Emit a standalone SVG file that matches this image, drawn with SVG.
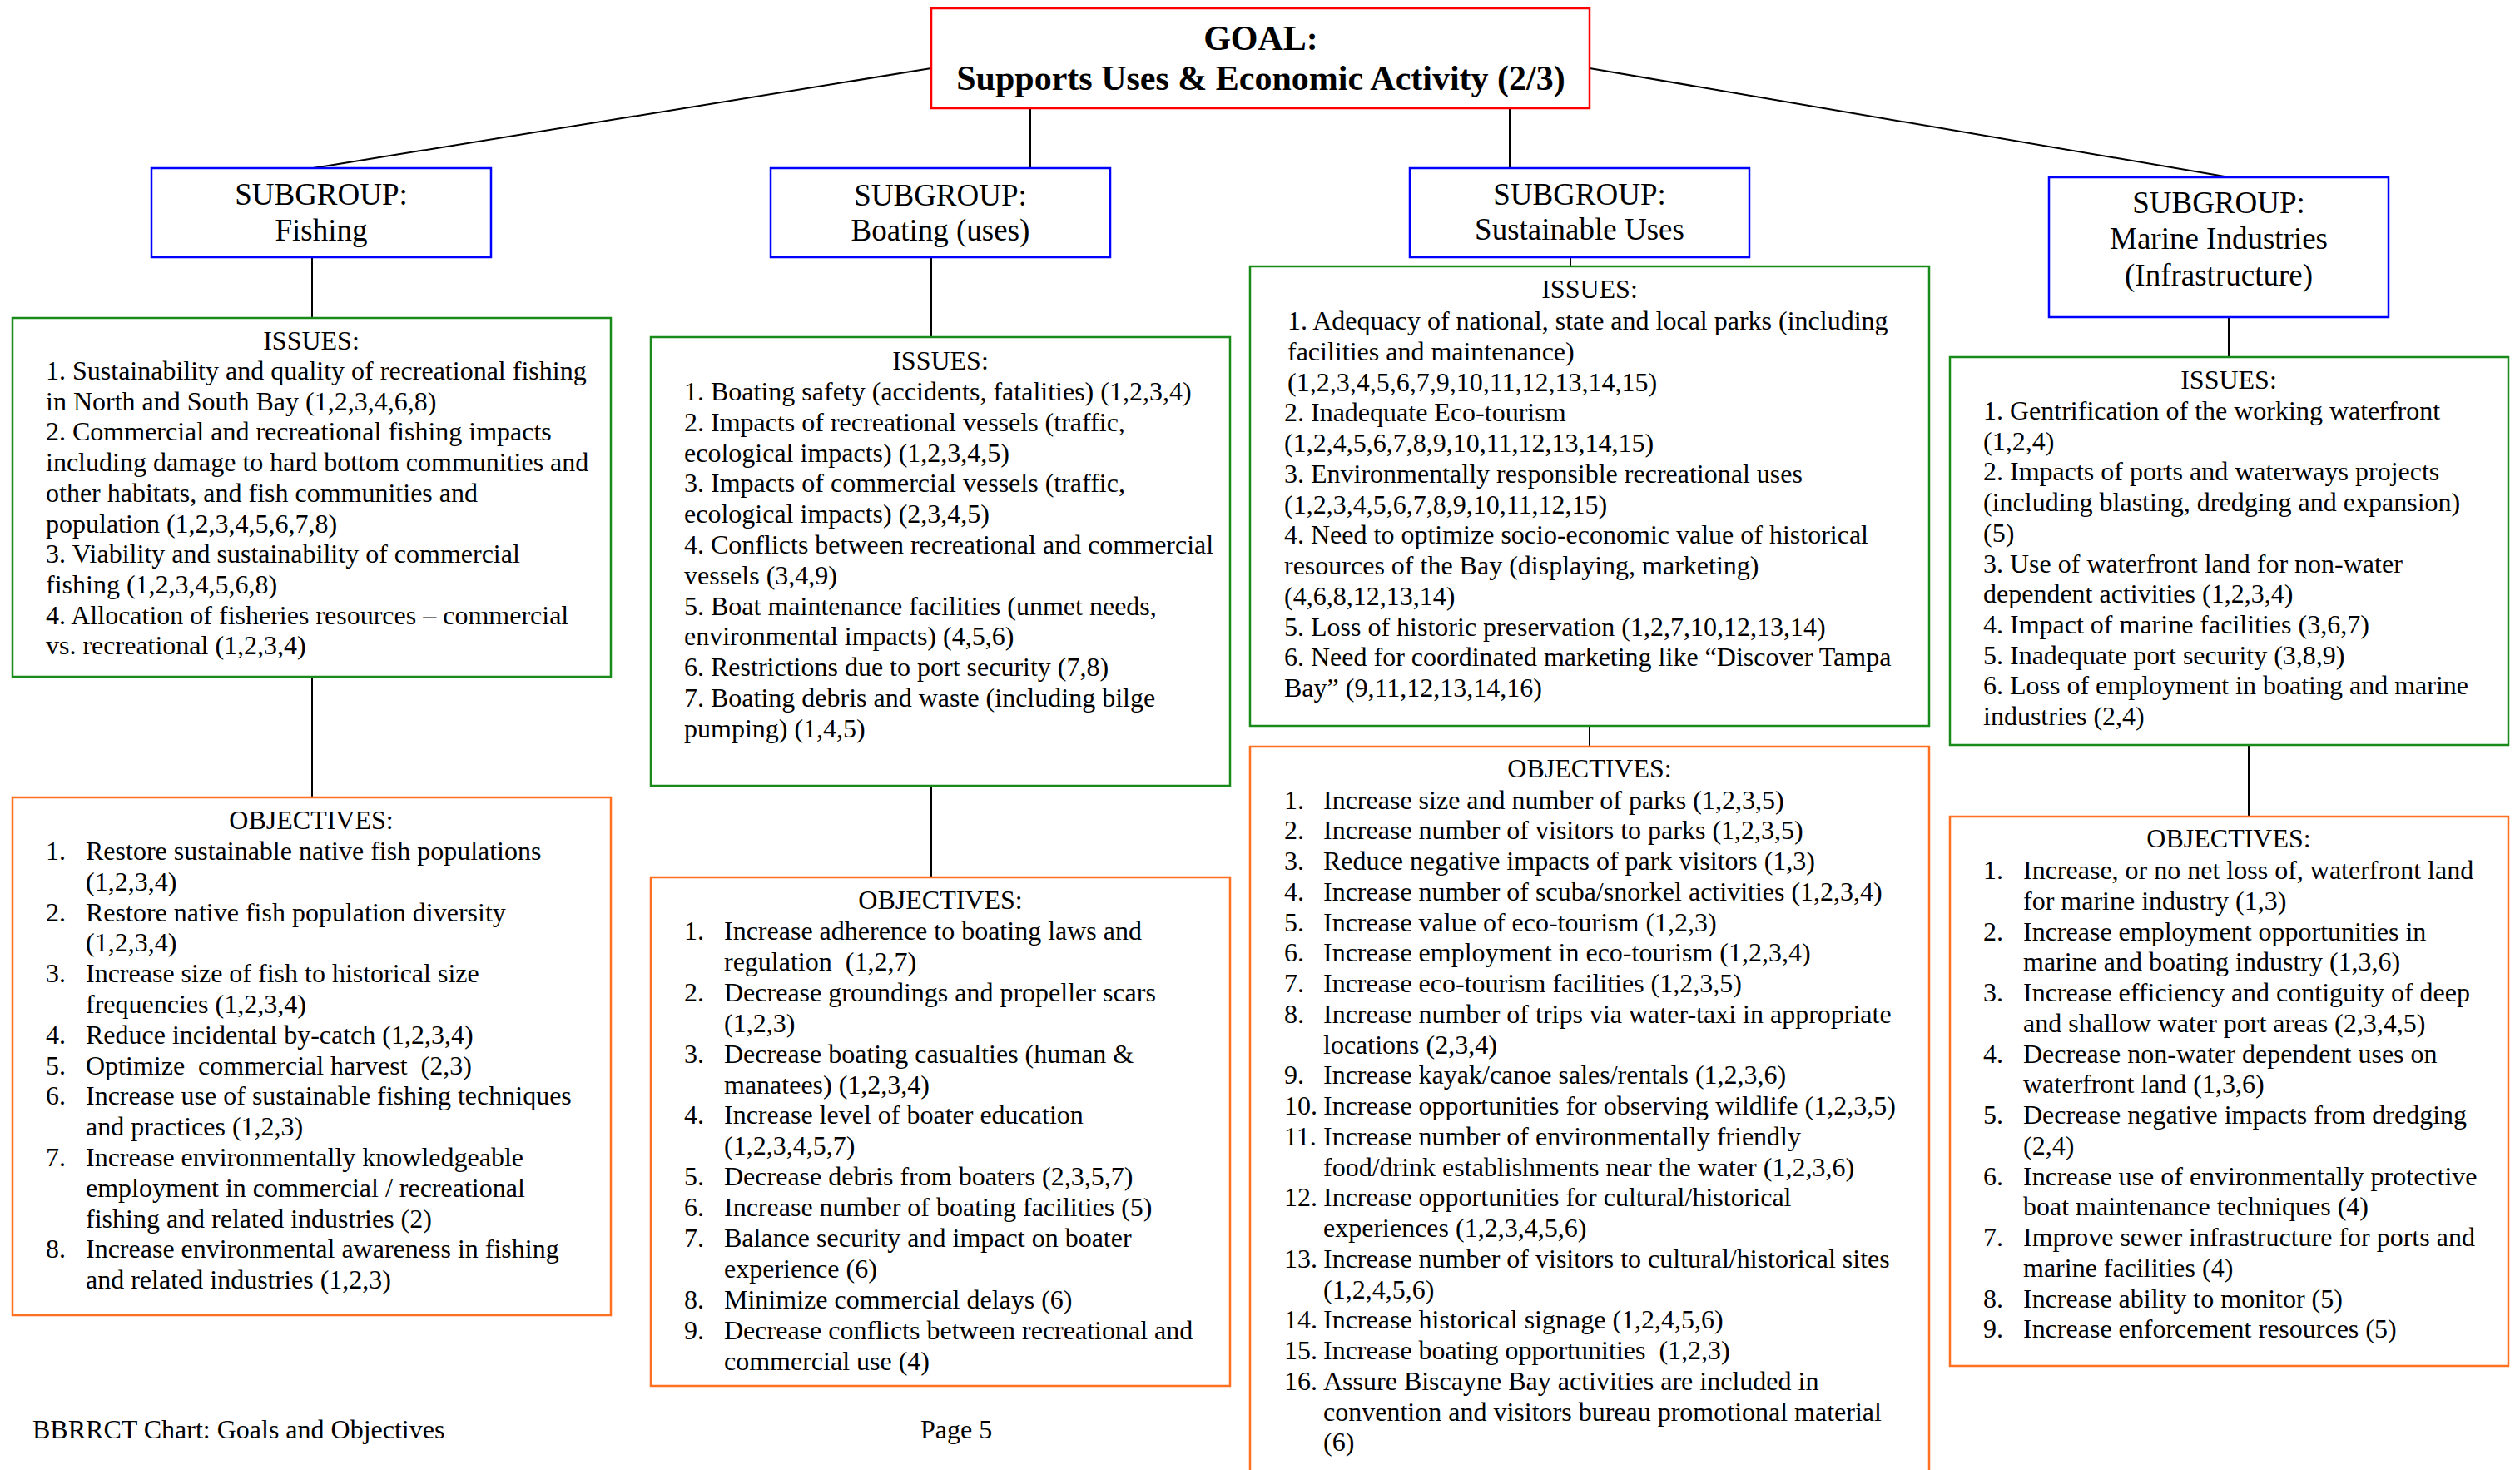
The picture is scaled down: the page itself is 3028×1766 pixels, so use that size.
<svg xmlns="http://www.w3.org/2000/svg" width="3028" height="1766" viewBox="0 0 3028 1766" xml:space="preserve">
<style>
text{font-family:"Liberation Serif","Times New Roman",serif;fill:#000;white-space:pre;}
.goalbox{fill:#fff;stroke:#ff0000;stroke-width:2.5;}
.sub{fill:#fff;stroke:#0000ff;stroke-width:2.5;}
.iss{fill:#fff;stroke:#1a8a1a;stroke-width:2.5;}
.obj{fill:#fff;stroke:#ff7020;stroke-width:2.5;}
.conn line{stroke:#000;stroke-width:2;}
.gt{font-size:42px;font-weight:bold;text-anchor:middle;}
.st{font-size:37px;text-anchor:middle;}
.b{font-size:32px;}
.h{font-size:32px;text-anchor:middle;}
</style>
<rect width="3028" height="1766" fill="#fff"/>
<g id="connectors" class="conn">
<line x1="1119" y1="82" x2="376" y2="202"/>
<line x1="1238" y1="130" x2="1238" y2="202"/>
<line x1="1814" y1="130" x2="1814" y2="202"/>
<line x1="1910" y1="82" x2="2679" y2="213"/>
<line x1="375" y1="309" x2="375" y2="382"/>
<line x1="375" y1="813" x2="375" y2="958"/>
<line x1="1119" y1="309" x2="1119" y2="405"/>
<line x1="1119" y1="944" x2="1119" y2="1054"/>
<line x1="1887" y1="309" x2="1887" y2="320"/>
<line x1="1910" y1="872" x2="1910" y2="897"/>
<line x1="2678" y1="381" x2="2678" y2="429"/>
<line x1="2702" y1="895" x2="2702" y2="981"/>
</g>
<g id="goal">
<rect class="goalbox" x="1119" y="10" width="791" height="120"/>
<text class="gt"><tspan x="1515" y="60">GOAL:</tspan><tspan x="1515" y="108">Supports Uses &amp; Economic Activity (2/3)</tspan></text>
</g>
<g id="sub-fishing">
<rect class="sub" x="182" y="202" width="408" height="107"/>
<text class="st"><tspan x="386" y="246">SUBGROUP:</tspan><tspan x="386" y="289">Fishing</tspan></text>
</g>
<g id="sub-boating">
<rect class="sub" x="926" y="202" width="408" height="107"/>
<text class="st"><tspan x="1130" y="247">SUBGROUP:</tspan><tspan x="1130" y="289">Boating (uses)</tspan></text>
</g>
<g id="sub-sustainable">
<rect class="sub" x="1694" y="202" width="408" height="107"/>
<text class="st"><tspan x="1898" y="246">SUBGROUP:</tspan><tspan x="1898" y="288">Sustainable Uses</tspan></text>
</g>
<g id="sub-marine">
<rect class="sub" x="2462" y="213" width="408" height="168"/>
<text class="st"><tspan x="2666" y="256">SUBGROUP:</tspan><tspan x="2666" y="299">Marine Industries</tspan><tspan x="2666" y="343">(Infrastructure)</tspan></text>
</g>
<g id="issues-fishing">
<rect class="iss" x="15" y="382" width="719" height="431"/>
<text class="h" x="374" y="420">ISSUES:</text>
<text class="b"><tspan x="55" y="456">1. Sustainability and quality of recreational fishing</tspan><tspan x="55" y="492.7">in North and South Bay (1,2,3,4,6,8)</tspan><tspan x="55" y="529.4">2. Commercial and recreational fishing impacts</tspan><tspan x="55" y="566.1">including damage to hard bottom communities and</tspan><tspan x="55" y="602.8">other habitats, and fish communities and</tspan><tspan x="55" y="639.5">population (1,2,3,4,5,6,7,8)</tspan><tspan x="55" y="676.2">3. Viability and sustainability of commercial</tspan><tspan x="55" y="712.9">fishing (1,2,3,4,5,6,8)</tspan><tspan x="55" y="749.6">4. Allocation of fisheries resources – commercial</tspan><tspan x="55" y="786.3">vs. recreational (1,2,3,4)</tspan></text>
</g>
<g id="objectives-fishing">
<rect class="obj" x="15" y="958" width="719" height="622"/>
<text class="h" x="374" y="996">OBJECTIVES:</text>
<text class="b"><tspan x="55" y="1033">1.</tspan><tspan x="103" y="1033">Restore sustainable native fish populations</tspan><tspan x="103" y="1069.8">(1,2,3,4)</tspan><tspan x="55" y="1106.6">2.</tspan><tspan x="103" y="1106.6">Restore native fish population diversity</tspan><tspan x="103" y="1143.4">(1,2,3,4)</tspan><tspan x="55" y="1180.2">3.</tspan><tspan x="103" y="1180.2">Increase size of fish to historical size</tspan><tspan x="103" y="1217">frequencies (1,2,3,4)</tspan><tspan x="55" y="1253.8">4.</tspan><tspan x="103" y="1253.8">Reduce incidental by-catch (1,2,3,4)</tspan><tspan x="55" y="1290.6">5.</tspan><tspan x="103" y="1290.6">Optimize  commercial harvest  (2,3)</tspan><tspan x="55" y="1327.4">6.</tspan><tspan x="103" y="1327.4">Increase use of sustainable fishing techniques</tspan><tspan x="103" y="1364.2">and practices (1,2,3)</tspan><tspan x="55" y="1401">7.</tspan><tspan x="103" y="1401">Increase environmentally knowledgeable</tspan><tspan x="103" y="1437.8">employment in commercial / recreational</tspan><tspan x="103" y="1474.6">fishing and related industries (2)</tspan><tspan x="55" y="1511.4">8.</tspan><tspan x="103" y="1511.4">Increase environmental awareness in fishing</tspan><tspan x="103" y="1548.2">and related industries (1,2,3)</tspan></text>
</g>
<g id="issues-boating">
<rect class="iss" x="782" y="405" width="696" height="539"/>
<text class="h" x="1130" y="444">ISSUES:</text>
<text class="b"><tspan x="822" y="481">1. Boating safety (accidents, fatalities) (1,2,3,4)</tspan><tspan x="822" y="517.8">2. Impacts of recreational vessels (traffic,</tspan><tspan x="822" y="554.6">ecological impacts) (1,2,3,4,5)</tspan><tspan x="822" y="591.4">3. Impacts of commercial vessels (traffic,</tspan><tspan x="822" y="628.2">ecological impacts) (2,3,4,5)</tspan><tspan x="822" y="665">4. Conflicts between recreational and commercial</tspan><tspan x="822" y="701.8">vessels (3,4,9)</tspan><tspan x="822" y="738.6">5. Boat maintenance facilities (unmet needs,</tspan><tspan x="822" y="775.4">environmental impacts) (4,5,6)</tspan><tspan x="822" y="812.2">6. Restrictions due to port security (7,8)</tspan><tspan x="822" y="849">7. Boating debris and waste (including bilge</tspan><tspan x="822" y="885.8">pumping) (1,4,5)</tspan></text>
</g>
<g id="objectives-boating">
<rect class="obj" x="782" y="1054" width="696" height="611"/>
<text class="h" x="1130" y="1092">OBJECTIVES:</text>
<text class="b"><tspan x="822" y="1129">1.</tspan><tspan x="870" y="1129">Increase adherence to boating laws and</tspan><tspan x="870" y="1165.9">regulation  (1,2,7)</tspan><tspan x="822" y="1202.8">2.</tspan><tspan x="870" y="1202.8">Decrease groundings and propeller scars</tspan><tspan x="870" y="1239.7">(1,2,3)</tspan><tspan x="822" y="1276.6">3.</tspan><tspan x="870" y="1276.6">Decrease boating casualties (human &amp;</tspan><tspan x="870" y="1313.5">manatees) (1,2,3,4)</tspan><tspan x="822" y="1350.4">4.</tspan><tspan x="870" y="1350.4">Increase level of boater education</tspan><tspan x="870" y="1387.3">(1,2,3,4,5,7)</tspan><tspan x="822" y="1424.2">5.</tspan><tspan x="870" y="1424.2">Decrease debris from boaters (2,3,5,7)</tspan><tspan x="822" y="1461.1">6.</tspan><tspan x="870" y="1461.1">Increase number of boating facilities (5)</tspan><tspan x="822" y="1498">7.</tspan><tspan x="870" y="1498">Balance security and impact on boater</tspan><tspan x="870" y="1534.9">experience (6)</tspan><tspan x="822" y="1571.8">8.</tspan><tspan x="870" y="1571.8">Minimize commercial delays (6)</tspan><tspan x="822" y="1608.7">9.</tspan><tspan x="870" y="1608.7">Decrease conflicts between recreational and</tspan><tspan x="870" y="1645.6">commercial use (4)</tspan></text>
</g>
<g id="issues-sustainable">
<rect class="iss" x="1502" y="320" width="816" height="552"/>
<text class="h" x="1910" y="358">ISSUES:</text>
<text class="b"><tspan x="1547" y="396">1. Adequacy of national, state and local parks (including</tspan><tspan x="1547" y="432.75">facilities and maintenance)</tspan><tspan x="1547" y="469.5">(1,2,3,4,5,6,7,9,10,11,12,13,14,15)</tspan><tspan x="1543" y="506.25">2. Inadequate Eco-tourism</tspan><tspan x="1543" y="543">(1,2,4,5,6,7,8,9,10,11,12,13,14,15)</tspan><tspan x="1543" y="579.75">3. Environmentally responsible recreational uses</tspan><tspan x="1543" y="616.5">(1,2,3,4,5,6,7,8,9,10,11,12,15)</tspan><tspan x="1543" y="653.25">4. Need to optimize socio-economic value of historical</tspan><tspan x="1543" y="690">resources of the Bay (displaying, marketing)</tspan><tspan x="1543" y="726.75">(4,6,8,12,13,14)</tspan><tspan x="1543" y="763.5">5. Loss of historic preservation (1,2,7,10,12,13,14)</tspan><tspan x="1543" y="800.25">6. Need for coordinated marketing like “Discover Tampa</tspan><tspan x="1543" y="837">Bay” (9,11,12,13,14,16)</tspan></text>
</g>
<g id="objectives-sustainable">
<rect class="obj" x="1502" y="897" width="816" height="900"/>
<text class="h" x="1910" y="934">OBJECTIVES:</text>
<text class="b"><tspan x="1543" y="971.5">1.</tspan><tspan x="1590" y="971.5">Increase size and number of parks (1,2,3,5)</tspan><tspan x="1543" y="1008.25">2.</tspan><tspan x="1590" y="1008.25">Increase number of visitors to parks (1,2,3,5)</tspan><tspan x="1543" y="1045">3.</tspan><tspan x="1590" y="1045">Reduce negative impacts of park visitors (1,3)</tspan><tspan x="1543" y="1081.75">4.</tspan><tspan x="1590" y="1081.75">Increase number of scuba/snorkel activities (1,2,3,4)</tspan><tspan x="1543" y="1118.5">5.</tspan><tspan x="1590" y="1118.5">Increase value of eco-tourism (1,2,3)</tspan><tspan x="1543" y="1155.25">6.</tspan><tspan x="1590" y="1155.25">Increase employment in eco-tourism (1,2,3,4)</tspan><tspan x="1543" y="1192">7.</tspan><tspan x="1590" y="1192">Increase eco-tourism facilities (1,2,3,5)</tspan><tspan x="1543" y="1228.75">8.</tspan><tspan x="1590" y="1228.75">Increase number of trips via water-taxi in appropriate</tspan><tspan x="1590" y="1265.5">locations (2,3,4)</tspan><tspan x="1543" y="1302.25">9.</tspan><tspan x="1590" y="1302.25">Increase kayak/canoe sales/rentals (1,2,3,6)</tspan><tspan x="1543" y="1339">10.</tspan><tspan x="1590" y="1339">Increase opportunities for observing wildlife (1,2,3,5)</tspan><tspan x="1543" y="1375.75">11.</tspan><tspan x="1590" y="1375.75">Increase number of environmentally friendly</tspan><tspan x="1590" y="1412.5">food/drink establishments near the water (1,2,3,6)</tspan><tspan x="1543" y="1449.25">12.</tspan><tspan x="1590" y="1449.25">Increase opportunities for cultural/historical</tspan><tspan x="1590" y="1486">experiences (1,2,3,4,5,6)</tspan><tspan x="1543" y="1522.75">13.</tspan><tspan x="1590" y="1522.75">Increase number of visitors to cultural/historical sites</tspan><tspan x="1590" y="1559.5">(1,2,4,5,6)</tspan><tspan x="1543" y="1596.25">14.</tspan><tspan x="1590" y="1596.25">Increase historical signage (1,2,4,5,6)</tspan><tspan x="1543" y="1633">15.</tspan><tspan x="1590" y="1633">Increase boating opportunities  (1,2,3)</tspan><tspan x="1543" y="1669.75">16.</tspan><tspan x="1590" y="1669.75">Assure Biscayne Bay activities are included in</tspan><tspan x="1590" y="1706.5">convention and visitors bureau promotional material</tspan><tspan x="1590" y="1743.25">(6)</tspan></text>
</g>
<g id="issues-marine">
<rect class="iss" x="2343" y="429" width="671" height="466"/>
<text class="h" x="2678" y="467">ISSUES:</text>
<text class="b"><tspan x="2383" y="504">1. Gentrification of the working waterfront</tspan><tspan x="2383" y="540.7">(1,2,4)</tspan><tspan x="2383" y="577.4">2. Impacts of ports and waterways projects</tspan><tspan x="2383" y="614.1">(including blasting, dredging and expansion)</tspan><tspan x="2383" y="650.8">(5)</tspan><tspan x="2383" y="687.5">3. Use of waterfront land for non-water</tspan><tspan x="2383" y="724.2">dependent activities (1,2,3,4)</tspan><tspan x="2383" y="760.9">4. Impact of marine facilities (3,6,7)</tspan><tspan x="2383" y="797.6">5. Inadequate port security (3,8,9)</tspan><tspan x="2383" y="834.3">6. Loss of employment in boating and marine</tspan><tspan x="2383" y="871">industries (2,4)</tspan></text>
</g>
<g id="objectives-marine">
<rect class="obj" x="2343" y="981" width="671" height="660"/>
<text class="h" x="2678" y="1018">OBJECTIVES:</text>
<text class="b"><tspan x="2383" y="1056">1.</tspan><tspan x="2431" y="1056">Increase, or no net loss of, waterfront land</tspan><tspan x="2431" y="1092.75">for marine industry (1,3)</tspan><tspan x="2383" y="1129.5">2.</tspan><tspan x="2431" y="1129.5">Increase employment opportunities in</tspan><tspan x="2431" y="1166.25">marine and boating industry (1,3,6)</tspan><tspan x="2383" y="1203">3.</tspan><tspan x="2431" y="1203">Increase efficiency and contiguity of deep</tspan><tspan x="2431" y="1239.75">and shallow water port areas (2,3,4,5)</tspan><tspan x="2383" y="1276.5">4.</tspan><tspan x="2431" y="1276.5">Decrease non-water dependent uses on</tspan><tspan x="2431" y="1313.25">waterfront land (1,3,6)</tspan><tspan x="2383" y="1350">5.</tspan><tspan x="2431" y="1350">Decrease negative impacts from dredging</tspan><tspan x="2431" y="1386.75">(2,4)</tspan><tspan x="2383" y="1423.5">6.</tspan><tspan x="2431" y="1423.5">Increase use of environmentally protective</tspan><tspan x="2431" y="1460.25">boat maintenance techniques (4)</tspan><tspan x="2383" y="1497">7.</tspan><tspan x="2431" y="1497">Improve sewer infrastructure for ports and</tspan><tspan x="2431" y="1533.75">marine facilities (4)</tspan><tspan x="2383" y="1570.5">8.</tspan><tspan x="2431" y="1570.5">Increase ability to monitor (5)</tspan><tspan x="2383" y="1607.25">9.</tspan><tspan x="2431" y="1607.25">Increase enforcement resources (5)</tspan></text>
</g>
<g id="footer">
<text class="b" x="39" y="1728">BBRRCT Chart: Goals and Objectives</text>
<text class="b" x="1106" y="1728">Page 5</text>
</g>
</svg>
